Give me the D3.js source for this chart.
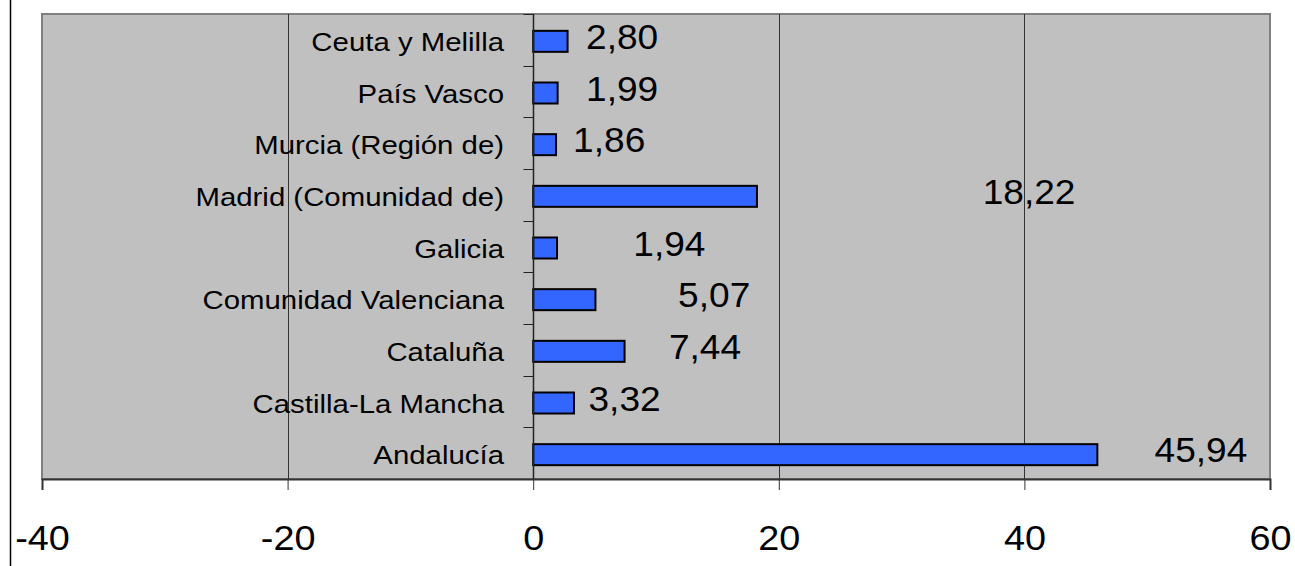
<!DOCTYPE html>
<html>
<head>
<meta charset="utf-8">
<title>regiones | barras</title>
<style>
    body { margin: 0; background: #fff; }
    svg { display: block; font-family: "Liberation Sans", Arial, sans-serif; }
</style>
</head>
<body>
<svg width="1295" height="566"></svg>
<script src="https://cdn.jsdelivr.net/npm/d3@7"></script>
<script>
// data, top to bottom as drawn
var regions = ['Ceuta y Melilla', 'País Vasco', 'Murcia (Región de)', 'Madrid (Comunidad de)',
               'Galicia', 'Comunidad Valenciana', 'Cataluña', 'Castilla-La Mancha', 'Andalucía'];
var values  = [2.80, 1.99, 1.86, 18.22, 1.94, 5.07, 7.44, 3.32, 45.94];
var xTicks  = [-40, -20, 0, 20, 40, 60];

// where the (hand moved) value labels start, in axis units
var labelAt = [4.3, 4.3, 3.25, 36.6, 8.15, 11.8, 11.05, 4.5, 50.6];

var svg = d3.select('svg');
// note: "top" is taken by window.top, so pTop / pBottom
var pLeft = 42, pRight = 1270, pTop = 14, pBottom = 479;

var x = d3.scaleLinear().domain([-40, 60]).range([pLeft, pRight]);
var y = d3.scaleBand().domain(regions).range([pTop, pBottom]).paddingInner(0).paddingOuter(0);

// outer frame edge
svg.append('line')
    .attr('x1', 10.5).attr('x2', 10.5).attr('y1', 0).attr('y2', 566)
    .attr('stroke', '#000').attr('stroke-width', 1.5);

// plot area
svg.append('rect')
    .attr('x', pLeft).attr('y', pTop)
    .attr('width', pRight - pLeft).attr('height', pBottom - pTop)
    .attr('fill', '#c0c0c0')
    .attr('stroke', '#808080').attr('stroke-width', 2);

// vertical gridlines
svg.append('g').selectAll('line')
    .data(xTicks.filter(function(d) { return d !== -40 && d !== 60 && d !== 0; }))
    .enter().append('line')
    .attr('x1', function(d) { return Math.round(x(d)) + 0.5; })
    .attr('x2', function(d) { return Math.round(x(d)) + 0.5; })
    .attr('y1', pTop).attr('y2', pBottom)
    .attr('stroke', '#333').attr('stroke-width', 1);

// category labels (the original text is drawn a bit wide)
svg.append('g').selectAll('text')
    .data(regions)
    .enter().append('text')
    .attr('transform', function(d) {
        return 'translate(504,' + (y(d) + y.bandwidth() / 2 + 11) + ') scale(1.13,1)';
    })
    .attr('text-anchor', 'end')
    .attr('font-size', 26)
    .attr('fill', '#000')
    .text(function(d) { return d; });

// bars
var barH = 21;
svg.append('g').selectAll('rect')
    .data(values)
    .enter().append('rect')
    .attr('x', x(0))
    .attr('y', function(d, i) { return y(regions[i]) + y.bandwidth() / 2 - barH / 2 + 1.5; })
    .attr('width', function(d) { return x(d) - x(0); })
    .attr('height', barH)
    .attr('fill', '#3366ff')
    .attr('stroke', '#000').attr('stroke-width', 2);

// value labels
svg.append('g').selectAll('text')
    .data(values)
    .enter().append('text')
    .attr('transform', function(d, i) {
        return 'translate(' + x(labelAt[i]) + ',' + (y(regions[i]) + y.bandwidth() / 2 + 9) + ') scale(1.06,1)';
    })
    .attr('font-size', 35)
    .attr('fill', '#000')
    .text(function(d) { return d.toFixed(2).replace('.', ','); });

// category axis at zero
var x0 = Math.round(x(0)) + 0.5;
svg.append('line')
    .attr('x1', x0).attr('x2', x0).attr('y1', pTop).attr('y2', pBottom)
    .attr('stroke', '#222').attr('stroke-width', 1.5);
svg.append('g').selectAll('line')
    .data(d3.range(regions.length + 1))
    .enter().append('line')
    .attr('x1', x0 - 10).attr('x2', x0)
    .attr('y1', function(i) { return Math.round(pTop + i * y.step()) + 0.5; })
    .attr('y2', function(i) { return Math.round(pTop + i * y.step()) + 0.5; })
    .attr('stroke', '#222').attr('stroke-width', 1);

// value axis
var xAxis = d3.axisBottom(x)
    .tickValues(xTicks)
    .tickSize(11)
    .tickFormat(function(d) { return d; });

var gx = svg.append('g')
    .attr('transform', 'translate(0,' + pBottom + ')')
    .call(xAxis);
gx.select('.domain').attr('stroke', '#333').attr('stroke-width', 2);
gx.selectAll('.tick line').attr('stroke', '#333');
gx.selectAll('.tick text')
    .attr('y', null).attr('dy', null)
    .attr('transform', 'translate(0,71) scale(1.08,1)')
    .attr('font-family', '"Liberation Sans", Arial, sans-serif')
    .attr('font-size', 35)
    .attr('fill', '#000');
</script>
</body>
</html>
